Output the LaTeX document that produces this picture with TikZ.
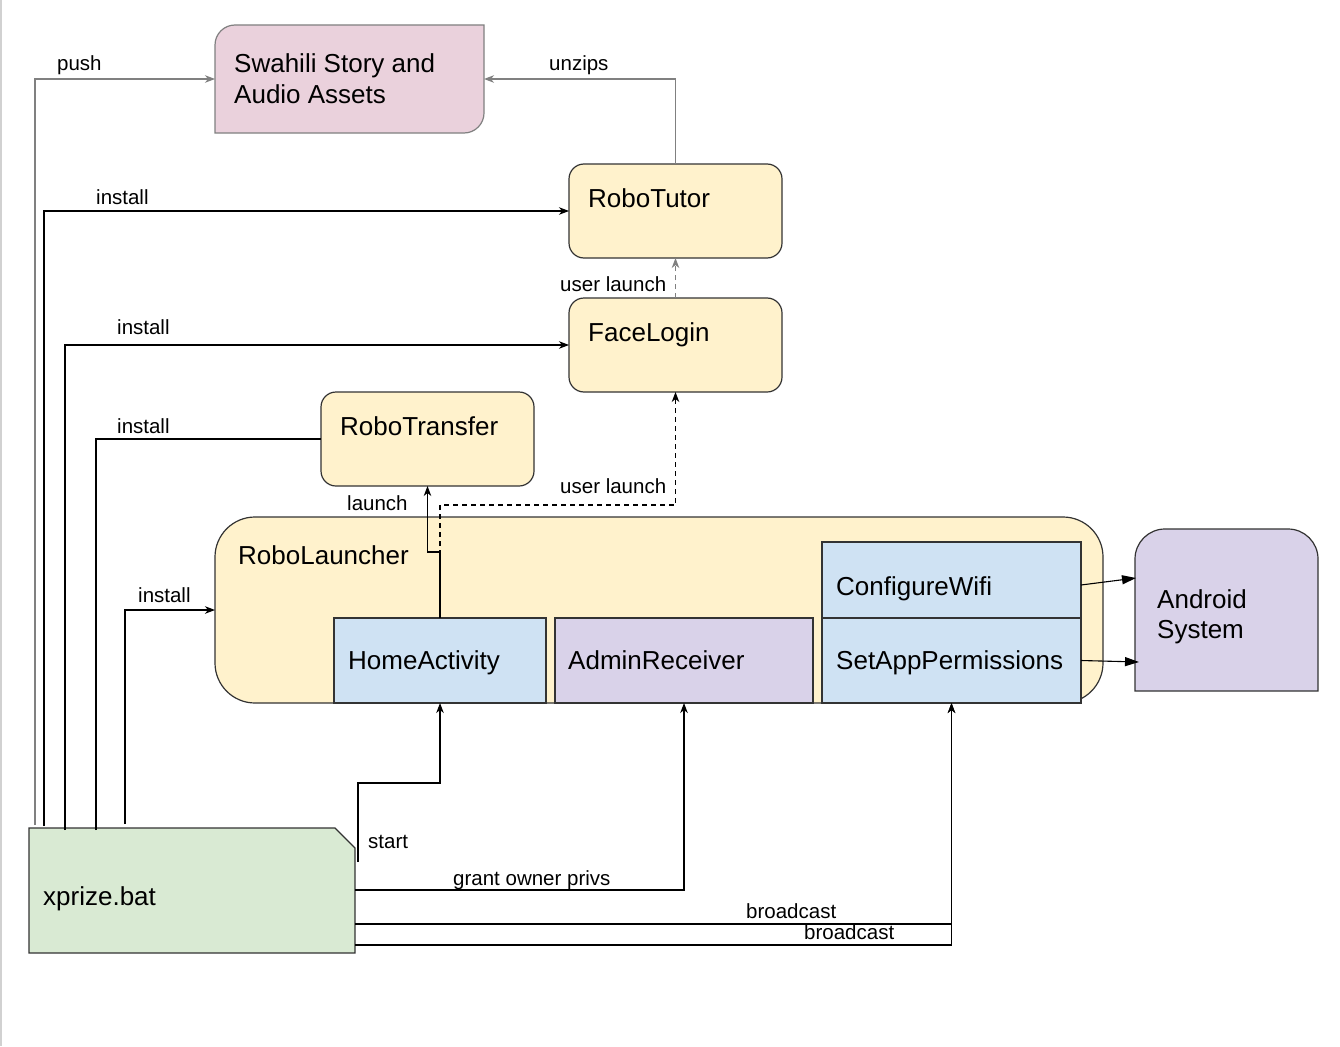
\documentclass[tikz,border=0pt]{standalone}
\usepackage{fontspec}
\setmainfont{Liberation Sans}
\usetikzlibrary{arrows.meta,calc}
\definecolor{cyel}{HTML}{FFF2CC}
\definecolor{cblue}{HTML}{CFE2F3}
\definecolor{cpurp}{HTML}{D9D2E9}
\definecolor{cpink}{HTML}{EAD1DC}
\definecolor{cgreen}{HTML}{D9EAD3}
\definecolor{cline}{HTML}{808080}
\definecolor{cbord}{HTML}{333333}
\begin{document}
\begin{tikzpicture}[x=1pt,y=-1pt,
  box/.style={draw=cbord, line width=1.2pt, anchor=north west, inner sep=0pt, outer sep=0pt},
  ybox/.style={box, fill=cyel, rounded corners=15pt, minimum width=213pt, minimum height=94pt},
  ghost/.style={anchor=north west, inner sep=0pt, outer sep=0pt},
  big/.style={anchor=base west, inner sep=0pt, font=\fontsize{26}{31}\selectfont},
  small/.style={anchor=base west, inner sep=0pt, font=\fontsize{20.5}{24}\selectfont},
  arr/.style={draw=black, line width=1.1pt, -{Stealth[length=10pt,width=7.5pt,inset=3pt]}},
  garr/.style={draw=cline, line width=1.1pt, -{Stealth[length=10pt,width=7.5pt,inset=3pt]}},
  plain/.style={draw=black, line width=1.1pt},
  tarr/.style={draw=black, line width=1.1pt, -{Triangle[length=14pt,width=9pt]}}]
\useasboundingbox (0,0) rectangle (1340,1046);
\fill[white] (0,0) rectangle (1340,1046);
\draw[black!18, line width=2pt] (1,0) -- (1,1046);

% ---- Swahili assets (custom corners)
\draw[fill=cpink, draw=cline, line width=1.2pt] (215,133) -- (215,45) arc[start angle=180,end angle=270,radius=20] -- (484,25) -- (484,113) arc[start angle=0,end angle=90,radius=20] -- cycle;
\node[ghost, minimum width=269pt, minimum height=108pt] (sw) at (215,25) {};
\node[big] (swt1) at (234,73) {Swahili Story and};
\node[big] (swt2) at (234,104) {Audio Assets};

% ---- yellow app boxes
\node[ybox] (tutor) at (569,164) {};
\node[big] (tutort) at (588,207) {RoboTutor};
\node[ybox] (face) at (569,298) {};
\node[big] (facet) at (588,341) {FaceLogin};
\node[ybox] (tr) at (321,392) {};
\node[big] (trt) at (340,435) {RoboTransfer};

% ---- RoboLauncher
\node[box, fill=cyel, rounded corners=40pt, minimum width=888pt, minimum height=186pt] (rl) at (215,517) {};
\node[big] (rlt) at (238,564) {RoboLauncher};
\node[box, fill=cblue, minimum width=212pt, minimum height=85pt] (ha) at (334,618) {};
\node[big] (hat) at (348,669) {HomeActivity};
\node[box, fill=cpurp, minimum width=258pt, minimum height=85pt] (ar) at (555,618) {};
\node[big] (art) at (568,669) {AdminReceiver};
\node[box, fill=cblue, minimum width=259pt, minimum height=76pt] (cw) at (822,542) {};
\node[big] (cwt) at (836,595) {ConfigureWifi};
\node[box, fill=cblue, minimum width=259pt, minimum height=85pt] (sap) at (822,618) {};
\node[big] (sapt) at (836,669) {SetAppPermissions};

% ---- Android System (rounded top)
\draw[fill=cpurp, draw=cbord, line width=1.2pt] (1135,691) -- (1135,559) arc[start angle=180,end angle=270,radius=30] -- (1288,529) arc[start angle=270,end angle=360,radius=30] -- (1318,691) -- cycle;
\node[ghost, minimum width=183pt, minimum height=162pt] (andr) at (1135,529) {};
\node[big] (andt1) at (1157,608) {Android};
\node[big] (andt2) at (1157,638) {System};

% ---- xprize.bat (card)
\draw[fill=cgreen, draw=cbord, line width=1.2pt] (29,828) -- (335,828) -- (355,848) -- (355,953) -- (29,953) -- cycle;
\node[ghost, minimum width=326pt, minimum height=125pt] (xp) at (29,828) {};
\node[big] (xpt) at (43,905) {xprize.bat};

% ---- connector end points on xprize.bat
\coordinate (p1) at ($(xp.north west)+(6,-3)$);
\coordinate (p2) at ($(xp.north west)+(15,-2)$);
\coordinate (p3) at ($(xp.north west)+(36,2)$);
\coordinate (p4) at ($(xp.north west)+(67,2)$);
\coordinate (p5) at ($(xp.north west)+(96,-4)$);
\coordinate (ps) at ($(xp.north east)+(3,34)$);
\coordinate (pg) at ($(xp.north east)+(0,62)$);
\coordinate (pb1) at ($(xp.north east)+(0,96)$);
\coordinate (pb2) at ($(xp.north east)+(0,117)$);

% ---- connectors
\draw[garr] (p1) |- (sw.west);
\node[small] (lpush) at (57,71) {push};
\draw[garr] (tutor.north) |- (sw.east);
\node[small] (lunz) at (549,71) {unzips};
\draw[arr] (p2) |- (tutor.west);
\node[small] (li1) at (96,204) {install};
\draw[arr] (p3) |- (face.west);
\node[small] (li2) at (117,334) {install};
\draw[plain] (p4) |- (tr.west);
\node[small] (li3) at (117,433) {install};
\draw[arr] (p5) |- (rl.west);
\node[small] (li4) at (138,602) {install};

\draw[garr, dashed, dash pattern=on 5pt off 4pt] (face.north) -- (tutor.south);
\node[small] (lul1) at (560,291) {user launch};
\draw[arr, dashed, dash pattern=on 5pt off 4pt] (ha.north) -- ++(0,-113) -| (face.south);
\node[small] (lul2) at (560,493) {user launch};
\draw[arr] (ha.north) |- ($(tr.south)+(0,66)$) -- (tr.south);
\node[small] (llaunch) at (347,510) {launch};

\draw[arr] (ps) -- ++(0,-79) -| (ha.south);
\node[small] (lstart) at (368,848) {start};
\draw[arr] (pg) -| (ar.south);
\node[small] (lgrant) at (453,885) {grant owner privs};
\draw[arr] (pb1) -| (sap.south);
\node[small] (lb1) at (746,918) {broadcast};
\draw[arr] (pb2) -| (sap.south);
\node[small] (lb2) at (804,939) {broadcast};

\draw[tarr] ($(cw.east)+(0,5)$) -- ($(andr.west)+(1,-32)$);
\draw[tarr] ($(sap.east)+(0,0)$) -- ($(andr.west)+(4,52)$);
\end{tikzpicture}
\end{document}
